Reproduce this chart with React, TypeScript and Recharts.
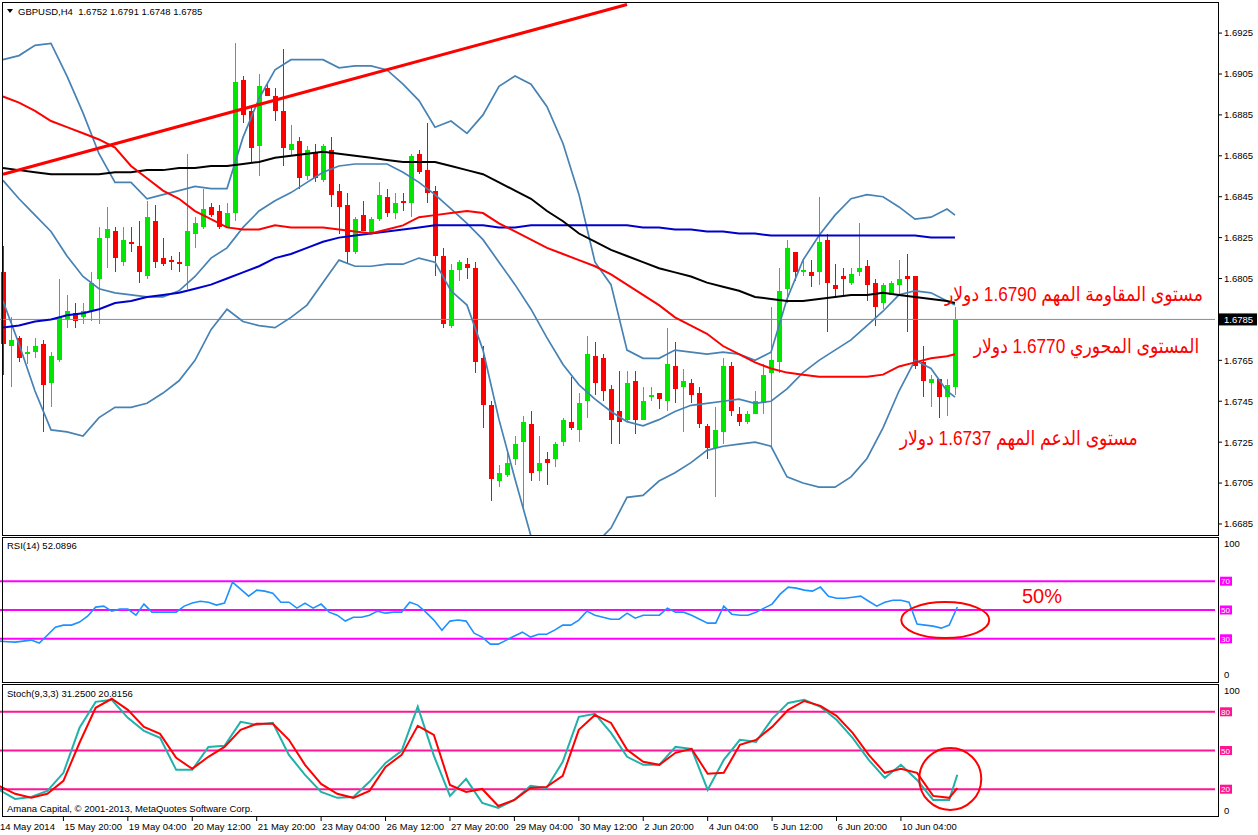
import { ComposedChart, Bar, Line, XAxis, YAxis, ReferenceLine, ReferenceDot } from 'recharts';

// GBPUSD H4, 120 candles (14 May 2014 12:00 .. 10 Jun 2014)
const open = [
  1.6808, 1.6772, 1.6776, 1.6768, 1.6769, 1.6773, 1.6754, 1.6765, 1.6785, 1.6788,
  1.6786, 1.6789, 1.6805, 1.6825, 1.6828, 1.6813, 1.6823, 1.6821, 1.6806, 1.6833,
  1.6815, 1.6814, 1.6813, 1.6811, 1.6827, 1.683, 1.684, 1.6838, 1.683, 1.6837,
  1.6902, 1.6887, 1.687, 1.6898, 1.6894, 1.6887, 1.6868, 1.6872, 1.6855, 1.6867,
  1.6853, 1.6868, 1.6848, 1.6841, 1.6818, 1.6836, 1.6827, 1.6834, 1.6845, 1.6837,
  1.6843, 1.6842, 1.6866, 1.6858, 1.6848, 1.6816, 1.6782, 1.6809, 1.6812, 1.681,
  1.6766, 1.6743, 1.6706, 1.6709, 1.6717, 1.6725, 1.6734, 1.6711, 1.6717, 1.6717,
  1.6725, 1.6735, 1.6731, 1.6745, 1.6767, 1.6766, 1.6751, 1.674, 1.6736, 1.6755,
  1.6736, 1.6747, 1.6749, 1.6745, 1.6762, 1.6752, 1.6754, 1.6749, 1.6733, 1.6722,
  1.673, 1.6762, 1.6739, 1.6735, 1.6739, 1.6744, 1.6759, 1.6764, 1.68, 1.6818,
  1.6808, 1.6808, 1.6808, 1.6824, 1.6802, 1.6806, 1.6803, 1.6808, 1.6811, 1.6803,
  1.6793, 1.6797, 1.6802, 1.6806, 1.6806, 1.6764, 1.6754, 1.6756, 1.6747, 1.6752,
];
const high = [
  1.6821, 1.6786, 1.6777, 1.6772, 1.6776, 1.6775, 1.6769, 1.6805, 1.6797, 1.6793,
  1.6793, 1.6808, 1.683, 1.684, 1.683, 1.683, 1.683, 1.6833, 1.6843, 1.6841,
  1.6825, 1.6816, 1.6818, 1.6866, 1.6835, 1.6849, 1.6842, 1.6841, 1.6842, 1.692,
  1.6904, 1.6889, 1.6905, 1.6901, 1.6898, 1.6917, 1.688, 1.6874, 1.687, 1.6871,
  1.6871, 1.6874, 1.6851, 1.6847, 1.6835, 1.6843, 1.6835, 1.6852, 1.6849, 1.6847,
  1.6847, 1.6866, 1.6868, 1.6881, 1.685, 1.682, 1.6812, 1.6814, 1.6815, 1.6813,
  1.6772, 1.6745, 1.6714, 1.672, 1.6728, 1.6738, 1.674, 1.6728, 1.672, 1.6725,
  1.6737, 1.6757, 1.6749, 1.6777, 1.6774, 1.6768, 1.6753, 1.676, 1.676, 1.676,
  1.6752, 1.6752, 1.6749, 1.6781, 1.6774, 1.6761, 1.6756, 1.6752, 1.6734, 1.6742,
  1.6766, 1.6764, 1.6742, 1.674, 1.675, 1.6763, 1.6791, 1.681, 1.6824, 1.6818,
  1.6815, 1.6814, 1.6845, 1.6827, 1.6812, 1.681, 1.681, 1.6832, 1.6814, 1.6805,
  1.6803, 1.6804, 1.6814, 1.6817, 1.6806, 1.6772, 1.6758, 1.6756, 1.6756, 1.6791,
];
const low = [
  1.6758, 1.6752, 1.6764, 1.6763, 1.6766, 1.673, 1.6742, 1.6764, 1.6781, 1.6781,
  1.6783, 1.6784, 1.6783, 1.681, 1.6808, 1.6811, 1.6818, 1.6803, 1.6805, 1.681,
  1.6811, 1.6809, 1.6808, 1.68, 1.682, 1.6829, 1.6835, 1.6829, 1.683, 1.6833,
  1.6881, 1.6862, 1.6855, 1.6894, 1.6882, 1.686, 1.6865, 1.6849, 1.6853, 1.6852,
  1.6852, 1.684, 1.6827, 1.6812, 1.6817, 1.6828, 1.6827, 1.6833, 1.6835, 1.6834,
  1.6838, 1.6835, 1.6856, 1.6842, 1.6806, 1.6781, 1.6781, 1.6804, 1.6805, 1.6759,
  1.6732, 1.6696, 1.6703, 1.6708, 1.6714, 1.6692, 1.6706, 1.6706, 1.6704, 1.6713,
  1.6723, 1.6731, 1.6725, 1.6737, 1.6748, 1.6745, 1.6724, 1.6724, 1.6735, 1.6729,
  1.6736, 1.6745, 1.6741, 1.674, 1.6744, 1.673, 1.6744, 1.6732, 1.6717, 1.6698,
  1.6724, 1.6738, 1.6733, 1.6734, 1.6739, 1.6739, 1.6722, 1.6759, 1.6793, 1.6804,
  1.6806, 1.6801, 1.6802, 1.6779, 1.6796, 1.6797, 1.6802, 1.6806, 1.6794, 1.6782,
  1.679, 1.6797, 1.6797, 1.6779, 1.6761, 1.6747, 1.6742, 1.6737, 1.6738, 1.6748,
];
const close = [
  1.6773, 1.6775, 1.6766, 1.6769, 1.6772, 1.6753, 1.6767, 1.6786, 1.6789, 1.6784,
  1.6789, 1.6803, 1.6825, 1.6829, 1.6815, 1.6824, 1.6822, 1.6808, 1.6835, 1.6813,
  1.6812, 1.6813, 1.6812, 1.6828, 1.6832, 1.6839, 1.6836, 1.683, 1.6837, 1.6901,
  1.6885, 1.6869, 1.6899, 1.6894, 1.6887, 1.6869, 1.6871, 1.6854, 1.6868, 1.6854,
  1.687, 1.6846, 1.684, 1.6818, 1.6834, 1.6828, 1.6834, 1.6846, 1.6837, 1.6842,
  1.6842, 1.6865, 1.6857, 1.6847, 1.6816, 1.6783, 1.6809, 1.6813, 1.681, 1.6764,
  1.6743, 1.6707, 1.671, 1.6715, 1.6724, 1.6735, 1.671, 1.6715, 1.6715, 1.6724,
  1.6736, 1.6732, 1.6744, 1.6768, 1.6754, 1.675, 1.6736, 1.6735, 1.6754, 1.6736,
  1.6745, 1.6748, 1.6746, 1.6763, 1.6751, 1.6755, 1.6748, 1.6734, 1.6722, 1.6731,
  1.6762, 1.674, 1.6735, 1.6739, 1.6745, 1.6758, 1.6765, 1.6799, 1.682, 1.6808,
  1.6809, 1.6806, 1.6823, 1.6803, 1.68, 1.6805, 1.6807, 1.681, 1.6802, 1.6791,
  1.6802, 1.6803, 1.6805, 1.6805, 1.6762, 1.6755, 1.6756, 1.6747, 1.6753, 1.6785,
];

// indicator lines, read every second bar (bars 0,2,...,118 and the last bar 119)
const bbUpper = [
  1.6912, 1.6914, 1.6919, 1.692, 1.6904, 1.6886, 1.6866, 1.6852, 1.6852, 1.6844,
  1.6846, 1.6848, 1.685, 1.6849, 1.6849, 1.6874, 1.6893, 1.6907, 1.6912, 1.6912,
  1.6912, 1.6908, 1.6909, 1.6909, 1.6907, 1.69, 1.6892, 1.6879, 1.6882, 1.6876,
  1.6885, 1.6899, 1.6904, 1.69, 1.6889, 1.6871, 1.6846, 1.6813, 1.6802, 1.677,
  1.6766, 1.6766, 1.677, 1.6769, 1.6768, 1.6769, 1.6768, 1.6765, 1.6769, 1.6795,
  1.6814, 1.6826, 1.6836, 1.6844, 1.6846, 1.6845, 1.684, 1.6834, 1.6835, 1.6839, 1.6836,
];
const bbMiddle = [
  1.6853, 1.6844, 1.6836, 1.6828, 1.6816, 1.6806, 1.68, 1.6798, 1.6797, 1.6796,
  1.6796, 1.6799, 1.6806, 1.6815, 1.682, 1.683, 1.6838, 1.6843, 1.6847, 1.6852,
  1.6857, 1.686, 1.6861, 1.6861, 1.6861, 1.6857, 1.6852, 1.6846, 1.6839, 1.6832,
  1.6824, 1.6813, 1.6802, 1.679, 1.6776, 1.6763, 1.6753, 1.6746, 1.674, 1.6735,
  1.6733, 1.6736, 1.674, 1.6743, 1.6744, 1.6745, 1.6746, 1.6744, 1.6745, 1.6751,
  1.6759, 1.6765, 1.677, 1.6775, 1.6782, 1.6789, 1.6797, 1.6799, 1.6798, 1.6794, 1.6792,
];
const bbLower = [
  1.6794, 1.6773, 1.675, 1.6731, 1.673, 1.6728, 1.6737, 1.6742, 1.6742, 1.6744,
  1.6749, 1.6755, 1.6765, 1.678, 1.679, 1.6784, 1.6782, 1.6781, 1.6786, 1.6792,
  1.6803, 1.6814, 1.6811, 1.6811, 1.6812, 1.6812, 1.6815, 1.6813, 1.6799, 1.6792,
  1.677, 1.6736, 1.6707, 1.6679, 1.6664, 1.6654, 1.666, 1.6675, 1.6683, 1.6698,
  1.6699, 1.6706, 1.671, 1.6715, 1.6721, 1.6723, 1.6724, 1.6725, 1.6723, 1.6708,
  1.6705, 1.6703, 1.6703, 1.6708, 1.6717, 1.6732, 1.675, 1.6765, 1.6761, 1.675, 1.6747,
];
const maRed = [
  1.6894, 1.6891, 1.6887, 1.6882, 1.6879, 1.6876, 1.6873, 1.6869, 1.686, 1.6854,
  1.6848, 1.6844, 1.6838, 1.6834, 1.683, 1.6829, 1.6829, 1.6831, 1.683, 1.683,
  1.683, 1.6829, 1.6828, 1.6827, 1.6829, 1.6831, 1.6835, 1.6836, 1.6837, 1.6838,
  1.6837, 1.6832, 1.6828, 1.6824, 1.682, 1.6817, 1.6814, 1.6811, 1.6807, 1.6802,
  1.6797, 1.6792, 1.6786, 1.6782, 1.6778, 1.6772, 1.6768, 1.6764, 1.6761, 1.6759,
  1.6758, 1.6757, 1.6757, 1.6757, 1.6757, 1.6758, 1.6762, 1.6764, 1.6766, 1.6767, 1.6768,
];
const maBlack = [
  1.6859, 1.6858, 1.6857, 1.6856, 1.6856, 1.6856, 1.6856, 1.6857, 1.6857, 1.6858,
  1.6858, 1.6859, 1.6859, 1.686, 1.686, 1.6861, 1.6862, 1.6864, 1.6865, 1.6866,
  1.6867, 1.6866, 1.6865, 1.6864, 1.6863, 1.6862, 1.6862, 1.6862, 1.686, 1.6858,
  1.6856, 1.6852, 1.6848, 1.6844, 1.6838, 1.6833, 1.6827, 1.6823, 1.6819, 1.6816,
  1.6813, 1.681, 1.6808, 1.6806, 1.6803, 1.6801, 1.6799, 1.6796, 1.6795, 1.6794,
  1.6794, 1.6795, 1.6796, 1.6797, 1.6797, 1.6798, 1.6797, 1.6796, 1.6795, 1.6794, 1.6793,
];
const maBlue = [
  1.6781, 1.6782, 1.6784, 1.6785, 1.6787, 1.6788, 1.679, 1.6793, 1.6794, 1.6796,
  1.6797, 1.6798, 1.68, 1.6802, 1.6805, 1.6808, 1.6811, 1.6815, 1.6817, 1.682,
  1.6823, 1.6825, 1.6826, 1.6827, 1.6828, 1.6829, 1.683, 1.6831, 1.6831, 1.6831,
  1.6831, 1.683, 1.683, 1.6831, 1.6831, 1.6831, 1.6831, 1.6831, 1.6831, 1.6831,
  1.683, 1.683, 1.6829, 1.6829, 1.6828, 1.6828, 1.6827, 1.6827, 1.6826, 1.6826,
  1.6826, 1.6826, 1.6826, 1.6826, 1.6826, 1.6826, 1.6826, 1.6826, 1.6825, 1.6825, 1.6825,
];
const stochK = [
  19.5, 12.5, 14, 18.7, 32.7, 67.6, 87.7, 89.3, 75.3, 65.2,
  59.8, 35, 35, 52.8, 53.6, 72.2, 69.9, 71.4, 46.6, 31.1,
  17.9, 13.3, 14, 25.7, 40.4, 49.7, 84, 46, 14.8, 28,
  9.4, 5.5, 11.7, 22.6, 21, 41.2, 76.1, 78.4, 63.7, 45.1,
  38.9, 38.9, 52.8, 51.3, 19.4, 42.7, 58.3, 56.7, 74.5, 86.9,
  89.3, 83.9, 73.8, 59.8, 42.7, 28.8, 38.9, 27.2, 11.7, 11.7, 31.25,
];
const stochD = [
  22.6, 16.4, 13.3, 16.4, 26.5, 56, 83.1, 90.1, 81.5, 68.3,
  62.9, 44.3, 35.8, 45.1, 52.8, 66, 70.7, 70.7, 58.3, 38.9,
  24.1, 16.4, 13.3, 18.7, 37.3, 46.6, 69.1, 62.1, 23.3, 17.9,
  20.2, 7, 11.7, 21, 21.8, 30.3, 66, 77.6, 71.4, 50.5,
  41.2, 38.9, 48.2, 51.3, 32, 32.7, 54.4, 58.2, 68.3, 81.5,
  88.4, 84.6, 76.9, 63.7, 46.6, 32.7, 35.8, 32.7, 14.8, 13.3, 20.82,
];
// RSI(14), one value per bar
const rsi = [
  28.4, 28, 27.7, 28.4, 29.1, 27, 32.5, 38.1, 39.5, 39.5,
  41.6, 45.7, 52, 52.7, 49.2, 50.6, 50.6, 46.4, 54.1, 48.5,
  48.5, 48.5, 48.5, 52.7, 54.8, 56.1, 55.4, 53.4, 54.8, 69.3,
  64.5, 59.6, 63.8, 63.1, 61.7, 55.4, 55.4, 51.3, 54.8, 51.3,
  54.1, 48.5, 46.4, 42.3, 45, 45, 46.4, 49.2, 47.8, 48.5,
  48.5, 55.4, 53.4, 48.5, 43, 36, 42.3, 43, 42.3, 33.9,
  31.2, 26.3, 26.3, 29.1, 31.9, 34.6, 31.2, 33.2, 33.2, 36,
  39.5, 39.5, 43, 49.2, 46.4, 45, 43.6, 43.6, 47.8, 44.3,
  46.4, 46.4, 46.4, 51.3, 48.5, 48.5, 46.4, 43.6, 40.9, 40.9,
  52.7, 47.1, 46.4, 46.4, 48.5, 51.3, 54.1, 61, 65.9, 65.2,
  63.8, 63.1, 65.9, 59.6, 58.2, 58.2, 58.9, 59.6, 56.1, 52.7,
  55.4, 56.8, 56.8, 55.4, 40.2, 39.5, 38.8, 37.4, 39.5, 52.09,
];

const dateLabels = [
  '14 May 2014', '15 May 20:00', '19 May 04:00', '20 May 12:00', '21 May 20:00',
  '23 May 04:00', '26 May 12:00', '27 May 20:00', '29 May 04:00', '30 May 12:00',
  '2 Jun 20:00', '4 Jun 04:00', '5 Jun 12:00', '6 Jun 20:00', '10 Jun 04:00',
];
const priceTicks = [1.6925, 1.6905, 1.6885, 1.6865, 1.6845, 1.6825, 1.6805, 1.6785, 1.6765, 1.6745, 1.6725, 1.6705, 1.6685];
const rsiLevels = [70, 50, 30];
const stochLevels = [80, 50, 20];
const trendLine = [[0, 1.6856], [78, 1.6939]];

const SLOTS = 152; // bars that fit the window, the last 32 are empty
const PRICE_MAX = 1.69402;
const PRICE_MIN = 1.66796;
const lastClose = close[close.length - 1];
const FONT = '"Liberation Sans", "DejaVu Sans", Arial, sans-serif';

const pick = (arr: number[], i: number) => {
  if (i === 119) return arr[60];
  return i % 2 === 0 && i < 120 ? arr[i / 2] : null;
};

const rows = Array.from({ length: SLOTS }, (_, i) => {
  if (i >= open.length) return { i };
  return {
    i,
    o: open[i],
    h: high[i],
    l: low[i],
    c: close[i],
    hl: [low[i], high[i]],
    bbUp: pick(bbUpper, i),
    bbMid: pick(bbMiddle, i),
    bbLow: pick(bbLower, i),
    red: pick(maRed, i),
    black: pick(maBlack, i),
    blue: pick(maBlue, i),
    rsi: rsi[i],
    k: pick(stochK, i),
    d: pick(stochD, i),
  };
});

function Candle(props: any) {
  const { x, y, width, height, payload } = props;
  if (!payload || payload.o == null) return null;
  const { o, h, l, c } = payload;
  const top = Math.min(y, y + height);
  const bottom = Math.max(y, y + height);
  const k = h === l ? 0 : (bottom - top) / (h - l);
  const py = (p: number) => top + (h - p) * k;
  const cx = x + width / 2;
  const up = c >= o;
  const bTop = py(Math.max(o, c));
  const bBot = py(Math.min(o, c));
  return (
    <g shapeRendering="crispEdges">
      <rect x={cx - 0.5} y={top} width={1} height={Math.max(1, bottom - top)} fill={up ? '#2ec82e' : '#ff0000'} />
      <rect x={cx - 2.5} y={bTop} width={5} height={Math.max(1, bBot - bTop)} fill={up ? '#00e600' : '#ff0000'} />
    </g>
  );
}

function PriceTick({ y, payload }: any) {
  const v = payload.value;
  if (v === lastClose) {
    return (
      <g>
        <rect x={1220} y={y - 6} width={38} height={12} fill="#000" />
        <text x={1225} y={y} dy={3.4} fill="#fff" fontSize={9.5} fontFamily={FONT}>{v.toFixed(4)}</text>
      </g>
    );
  }
  return (
    <g>
      <line x1={1219} x2={1223} y1={y} y2={y} stroke="#000" />
      <text x={1225} y={y} dy={3.4} fill="#000" fontSize={9.5} fontFamily={FONT}>{v.toFixed(4)}</text>
    </g>
  );
}

function levelTick(levels: number[], color: string, topShift: number, bottomShift: number) {
  return ({ y, payload }: any) => {
    const v = payload.value;
    if (levels.includes(v)) {
      return (
        <g>
          <rect x={1221} y={y - 4.5} width={12} height={9} fill={color} />
          <text x={1222} y={y} dy={3} fill="#fff" fontSize={8} fontFamily={FONT}>{v}</text>
        </g>
      );
    }
    const shift = v === 100 ? topShift : bottomShift;
    return (
      <text x={1225} y={y + shift} dy={3.4} fill="#000" fontSize={9.5} fontFamily={FONT}>{v}</text>
    );
  };
}

function DateTick({ x, payload }: any) {
  const label = dateLabels[payload.value / 8];
  return (
    <g>
      <line x1={x} x2={x} y1={131} y2={135} stroke="#000" />
      <text x={x + 1} y={144} fill="#000" fontSize={9.5} fontFamily={FONT}>{label}</text>
    </g>
  );
}

const ellipse = (rx: number, ry: number, shift: number) => (p: any) => (
  <ellipse cx={p.cx + shift} cy={p.cy} rx={rx} ry={ry} fill="none" stroke="#ff0000" strokeWidth={2} />
);

const lineProps = { dot: false, activeDot: false, connectNulls: true, isAnimationActive: false, type: 'linear' as const };

const frame = (top: number, height: number): React.CSSProperties => ({
  position: 'absolute', left: 2, top, width: 1217, height, border: '1px solid #000',
  boxSizing: 'border-box', pointerEvents: 'none',
});

const small: React.CSSProperties = {
  position: 'absolute', fontSize: 9.5, lineHeight: '11px', color: '#000', whiteSpace: 'pre', fontFamily: FONT,
};
const note: React.CSSProperties = {
  position: 'absolute', fontSize: 20, lineHeight: '20px', color: '#ff0000', whiteSpace: 'nowrap',
  fontFamily: FONT, direction: 'rtl', textAlign: 'right', transform: 'scaleX(0.86)', transformOrigin: 'right center',
};

export default function App() {
  return (
    <div style={{ position: 'absolute', left: 0, top: 0, width: 1258, height: 835, background: '#fff', overflow: 'hidden', fontFamily: FONT }}>
      {/* price window */}
      <div style={{ position: 'absolute', left: -1, top: 2 }}>
        <ComposedChart width={1259} height={533} data={rows} margin={{ top: 0, right: 0, bottom: 0, left: 0 }} barCategoryGap={0} barGap={0}>
          <XAxis dataKey="i" hide />
          <YAxis orientation="right" width={43} domain={[PRICE_MIN, PRICE_MAX]} allowDataOverflow ticks={priceTicks}
            interval={0} axisLine={false} tickLine={false} tick={(p: any) => <PriceTick {...p} />} />
          <ReferenceLine y={lastClose} stroke="#7890a8" strokeWidth={1} />
          <Bar dataKey="hl" shape={(p: any) => <Candle {...p} />} isAnimationActive={false} />
          <Line dataKey="bbUp" stroke="#4682b4" strokeWidth={1.7} {...lineProps} />
          <Line dataKey="bbMid" stroke="#4682b4" strokeWidth={1.7} {...lineProps} />
          <Line dataKey="bbLow" stroke="#4682b4" strokeWidth={1.7} {...lineProps} />
          <Line dataKey="blue" stroke="#0000cd" strokeWidth={2} {...lineProps} />
          <Line dataKey="black" stroke="#000000" strokeWidth={2} {...lineProps} />
          <Line dataKey="red" stroke="#ff0000" strokeWidth={2} {...lineProps} />
          <ReferenceLine
            segment={[{ x: trendLine[0][0], y: trendLine[0][1] }, { x: trendLine[1][0], y: trendLine[1][1] }]}
            stroke="#ff0000" strokeWidth={3} />
        </ComposedChart>
      </div>

      {/* RSI window */}
      <div style={{ position: 'absolute', left: -1, top: 538 }}>
        <ComposedChart width={1259} height={144} data={rows} margin={{ top: 0, right: 0, bottom: 0, left: 0 }}>
          <XAxis dataKey="i" hide />
          <YAxis orientation="right" width={43} domain={[0, 100]} ticks={[100, 70, 50, 30, 0]} interval={0}
            axisLine={false} tickLine={false} tick={levelTick(rsiLevels, '#ff00ff', 6, -7)} />
          {rsiLevels.map((v) => (
            <ReferenceLine key={v} y={v} stroke="#ff00ff" strokeWidth={2} />
          ))}
          <Line dataKey="rsi" stroke="#1e90ff" strokeWidth={1.6} {...lineProps} />
          <ReferenceDot x={118} y={43} r={0} shape={ellipse(44, 18, -4)} />
        </ComposedChart>
      </div>

      {/* Stochastic window */}
      <div style={{ position: 'absolute', left: -1, top: 686 }}>
        <ComposedChart width={1259} height={149} data={rows} margin={{ top: 0, right: 0, bottom: 0, left: 0 }}>
          <XAxis dataKey="i" height={20} ticks={[0, 8, 16, 24, 32, 40, 48, 56, 64, 72, 80, 88, 96, 104, 112]}
            interval={0} axisLine={false} tickLine={false} tick={(p: any) => <DateTick {...p} />} />
          <YAxis orientation="right" width={43} domain={[0, 100]} ticks={[100, 80, 50, 20, 0]} interval={0}
            axisLine={false} tickLine={false} tick={levelTick(stochLevels, '#ff1493', 5, -4.5)} />
          {stochLevels.map((v) => (
            <ReferenceLine key={v} y={v} stroke="#ff1493" strokeWidth={2} />
          ))}
          <Line dataKey="k" stroke="#20b2aa" strokeWidth={2} {...lineProps} />
          <Line dataKey="d" stroke="#ff0000" strokeWidth={2} {...lineProps} />
          <ReferenceDot x={118} y={28} r={0} shape={ellipse(31, 31, 1)} />
        </ComposedChart>
      </div>

      {/* window frames */}
      <div style={frame(2, 534)} />
      <div style={frame(537, 146)} />
      <div style={frame(684, 133)} />

      {/* captions */}
      <div style={{ position: 'absolute', left: 7, top: 9, width: 0, height: 0, borderLeft: '3px solid transparent', borderRight: '3px solid transparent', borderTop: '4px solid #000' }} />
      <div style={{ ...small, left: 18, top: 6 }}>{'GBPUSD,H4  1.6752 1.6791 1.6748 1.6785'}</div>
      <div style={{ ...small, left: 7, top: 540 }}>RSI(14) 52.0896</div>
      <div style={{ ...small, left: 7, top: 688 }}>Stoch(9,3,3) 31.2500 20.8156</div>
      <div style={{ ...small, left: 7, top: 803 }}>Amana Capital, © 2001-2013, MetaQuotes Software Corp.</div>

      {/* annotations */}
      <div style={{ ...note, right: 55, top: 284 }}>مستوى المقاومة المهم 1.6790 دولار</div>
      <div style={{ ...note, right: 59, top: 336 }}>المستوى المحوري 1.6770 دولار</div>
      <div style={{ ...note, right: 120, top: 428 }}>مستوى الدعم المهم 1.6737 دولار</div>
      <div style={{ ...note, left: 1022, top: 586, direction: 'ltr', transform: 'none' }}>50%</div>
    </div>
  );
}
